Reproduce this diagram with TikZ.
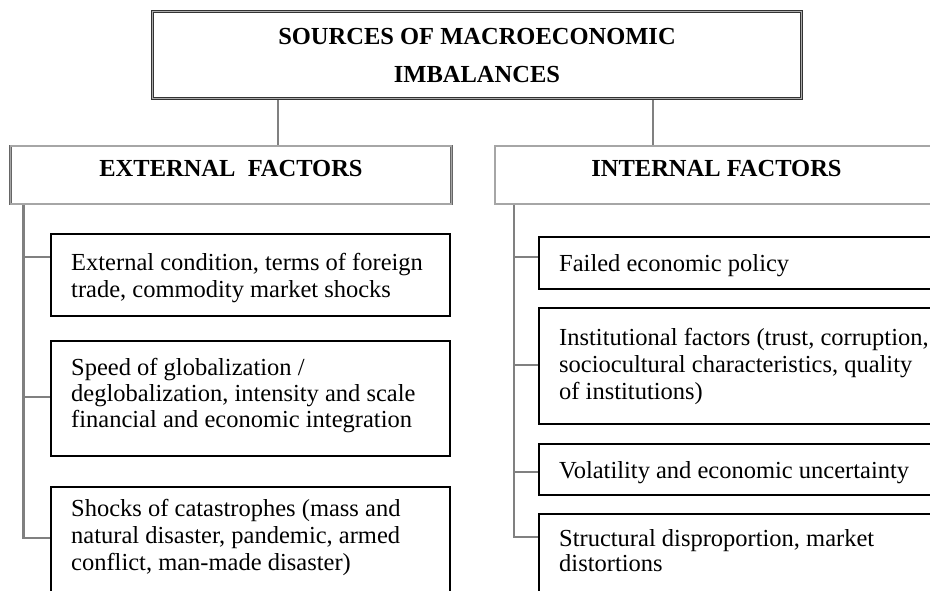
\documentclass[tikz,border=0pt]{standalone}
\usepackage{fontspec}
\setmainfont{Liberation Serif}
\usetikzlibrary{calc,backgrounds}
\definecolor{conngray}{HTML}{808080}
\begin{document}
\begin{tikzpicture}[x=1pt,y=-1pt,
  conn/.style={draw=conngray, line width=2.3pt},
  titlebox/.style={rectangle, draw=black!80, line width=0.9pt, double=gray!65, double distance=1.6pt, inner sep=0pt, outer sep=0pt, anchor=north west},
  headbox/.style={rectangle, draw=black!60, line width=0.7pt, double=gray!70, double distance=1.3pt, inner sep=0pt, outer sep=0pt, anchor=north west, minimum height=58pt},
  itembox/.style={rectangle, draw=black, line width=1.8pt, inner sep=0pt, outer sep=0pt, anchor=north west},
  txt/.style={inner sep=0pt, anchor=base west, font=\fontsize{24.5}{27}\selectfont},
  hdr/.style={inner sep=0pt, anchor=base, font=\bfseries\fontsize{24.5}{27}\selectfont}]
\useasboundingbox (0,0) rectangle (930,591);
\clip (0,0) rectangle (930,591);

% title
\node[titlebox, minimum width=649pt, minimum height=87pt] (top) at (152.5,11.5) {};
\node[hdr] (toptxt) at (477,45) {\begin{tabular}[t]{@{}c@{}}SOURCES OF MACROECONOMIC\\[11pt]IMBALANCES\end{tabular}};

% headers
\node[headbox, minimum width=441pt] (ext) at (10.7,146) {};
\node[hdr] (exttxt) at (231,177) {EXTERNAL\hspace{0.5em}FACTORS};
\node[headbox, minimum width=445pt] (int) at (495,146) {};
\node[hdr] (inttxt) at (716.5,177) {INTERNAL FACTORS};

% external items
\node[itembox, minimum width=399pt, minimum height=82pt] (e1) at (51,234) {};
\node[txt] (e1t) at ($(e1.north west)+(20,36)$) {\begin{tabular}[t]{@{}l@{}}External condition, terms of foreign\\trade, commodity market shocks\end{tabular}};
\node[itembox, minimum width=399pt, minimum height=115pt] (e2) at (51,341) {};
\node[txt] (e2t) at ($(e2.north west)+(20,34)$) {\begin{tabular}[t]{@{}l@{}}Speed of globalization /\\[-1pt]deglobalization, intensity and scale\\[-1pt]financial and economic integration\end{tabular}};
\node[itembox, minimum width=399pt, minimum height=120pt] (e3) at (51,487) {};
\node[txt] (e3t) at ($(e3.north west)+(20,29)$) {\begin{tabular}[t]{@{}l@{}}Shocks of catastrophes (mass and\\natural disaster, pandemic, armed\\conflict, man-made disaster)\end{tabular}};

% internal items
\node[itembox, minimum width=420pt, minimum height=52pt] (i1) at (539,237) {};
\node[txt] (i1t) at ($(i1.north west)+(20,35)$) {Failed economic policy};
\node[itembox, minimum width=420pt, minimum height=116pt] (i2) at (539,308) {};
\node[txt] (i2t) at ($(i2.north west)+(20,37)$) {\begin{tabular}[t]{@{}l@{}}Institutional factors (trust, corruption,\\sociocultural characteristics, quality\\of institutions)\end{tabular}};
\node[itembox, minimum width=420pt, minimum height=51pt] (i3) at (539,444) {};
\node[txt] (i3t) at ($(i3.north west)+(20,34.5)$) {Volatility and economic uncertainty};
\node[itembox, minimum width=420pt, minimum height=100pt] (i4) at (539,514) {};
\node[txt] (i4t) at ($(i4.north west)+(20,32.5)$) {\begin{tabular}[t]{@{}l@{}}Structural disproportion, market\\[-2pt]distortions\end{tabular}};

% connector coordinates
\coordinate (cl) at (278,0);
\coordinate (cr) at (653,0);
\coordinate (tl) at (23.5,0);
\coordinate (tr) at (514,0);
\coordinate (e1b) at ($(e1.north west)+(0,23)$);
\coordinate (e2b) at ($(e2.north west)+(0,56)$);
\coordinate (e3b) at ($(e3.north west)+(0,51)$);
\coordinate (i1b) at ($(i1.north west)+(0,20)$);
\coordinate (i2b) at ($(i2.north west)+(0,57)$);
\coordinate (i3b) at ($(i3.north west)+(0,28)$);
\coordinate (i4b) at ($(i4.north west)+(0,23)$);

\begin{scope}[on background layer]
\draw[conn] (top.south -| cl) -- (ext.north -| cl);
\draw[conn] (top.south -| cr) -- (int.north -| cr);
\draw[conn] (ext.south -| tl) |- (e3b);
\draw[conn] (tl |- e1b) -- (e1b);
\draw[conn] (tl |- e2b) -- (e2b);
\draw[conn] (int.south -| tr) |- (i4b);
\draw[conn] (tr |- i1b) -- (i1b);
\draw[conn] (tr |- i2b) -- (i2b);
\draw[conn] (tr |- i3b) -- (i3b);
\end{scope}
\end{tikzpicture}
\end{document}
